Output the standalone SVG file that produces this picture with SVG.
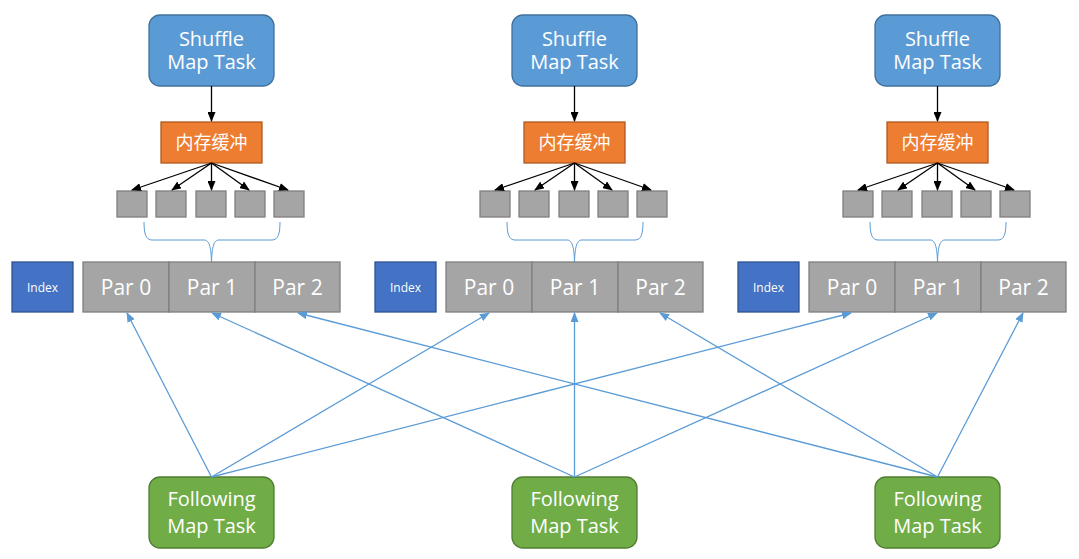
<svg xmlns="http://www.w3.org/2000/svg" width="1079" height="559" viewBox="0 0 1079 559">
<style>
.shuf{fill:#5B9BD5;stroke:#41719C;stroke-width:1.3}
.buf{fill:#ED7D31;stroke:#AE5A21;stroke-width:1.3}
.sq{fill:#A5A5A5;stroke:#7F7F7F;stroke-width:1.3}
.idx{fill:#4472C4;stroke:#2F528F;stroke-width:1.3}
.fol{fill:#70AD47;stroke:#507E32;stroke-width:1.3}
.t{fill:#fff;font-family:"Open Sans","Noto Sans",sans-serif;text-anchor:middle}
.big{font-size:20px}
.par{font-size:21px}
.cn{font-family:"Noto Sans CJK SC",sans-serif;font-size:18px;fill:#fff;text-anchor:middle}
.sm{font-size:12px}
.blk{stroke:#000;stroke-width:1.3;fill:none;marker-end:url(#ab)}
.blu{stroke:#5B9BD5;stroke-width:1.3;fill:none;marker-end:url(#au)}
.brace{stroke:#5B9BD5;stroke-width:1;fill:none}
</style>
<defs>
<marker id="ab" markerWidth="10" markerHeight="8" refX="9" refY="4" orient="auto" markerUnits="userSpaceOnUse"><path d="M0,0 L10,4 L0,8 z" fill="#000"/></marker>
<marker id="au" markerWidth="10" markerHeight="8" refX="9" refY="4" orient="auto" markerUnits="userSpaceOnUse"><path d="M0,0 L10,4 L0,8 z" fill="#5B9BD5"/></marker>
<g id="grp">
<rect class="shuf" x="149" y="15" width="125" height="71" rx="11"/>
<text class="t big" x="211.5" y="46">Shuffle</text>
<text class="t big" x="211.5" y="69">Map Task</text>
<rect class="buf" x="161" y="122" width="101" height="41"/>
<text class="cn" x="211.5" y="149">内存缓冲</text>
<rect class="sq" x="117" y="191" width="30" height="26"/>
<rect class="sq" x="156" y="191" width="30" height="26"/>
<rect class="sq" x="196" y="191" width="30" height="26"/>
<rect class="sq" x="235" y="191" width="30" height="26"/>
<rect class="sq" x="274" y="191" width="30" height="26"/>
<path class="brace" d="M144,222 C144,234 146,240 152,240 L204,240 C209,240 211,246 211.5,262 C212,246 214,240 219,240 L272,240 C278,240 280,234 280,222"/>
<rect class="idx" x="12" y="262" width="61" height="50"/>
<text class="t sm" x="42.5" y="292">Index</text>
<rect class="sq" x="83" y="262" width="86" height="50"/>
<rect class="sq" x="169" y="262" width="86" height="50"/>
<rect class="sq" x="255" y="262" width="85" height="50"/>
<text class="t par" x="126" y="295">Par 0</text>
<text class="t par" x="212" y="295">Par 1</text>
<text class="t par" x="297.5" y="295">Par 2</text>
<path class="blk" d="M211.5,86 L211.5,121"/>
<path class="blk" d="M211.5,163 L132,190"/>
<path class="blk" d="M211.5,163 L172,190"/>
<path class="blk" d="M211.5,163 L211.5,190"/>
<path class="blk" d="M211.5,163 L249,190"/>
<path class="blk" d="M211.5,163 L288,190"/>
</g>
</defs>
<g id="group1"><use href="#grp"/></g>
<g id="group2"><use href="#grp" transform="translate(363,0)"/></g>
<g id="group3"><use href="#grp" transform="translate(726,0)"/></g>
<g id="following1">
<rect class="fol" x="149" y="477" width="125" height="71" rx="11"/>
<text class="t big" x="211.5" y="506">Following</text>
<text class="t big" x="211.5" y="533">Map Task</text>
</g>
<g id="following2">
<rect class="fol" x="512" y="477" width="125" height="71" rx="11"/>
<text class="t big" x="574.5" y="506">Following</text>
<text class="t big" x="574.5" y="533">Map Task</text>
</g>
<g id="following3">
<rect class="fol" x="875" y="477" width="125" height="71" rx="11"/>
<text class="t big" x="937.5" y="506">Following</text>
<text class="t big" x="937.5" y="533">Map Task</text>
</g>
<g id="connectors">
<path class="blu" d="M211.5,477 L127,313"/>
<path class="blu" d="M211.5,477 L489,313"/>
<path class="blu" d="M211.5,477 L851,313"/>
<path class="blu" d="M574.5,477 L212,313"/>
<path class="blu" d="M574.5,477 L574.5,313"/>
<path class="blu" d="M574.5,477 L937,313"/>
<path class="blu" d="M937.5,477 L298,313"/>
<path class="blu" d="M937.5,477 L660,313"/>
<path class="blu" d="M937.5,477 L1023,313"/>
</g>
</svg>
